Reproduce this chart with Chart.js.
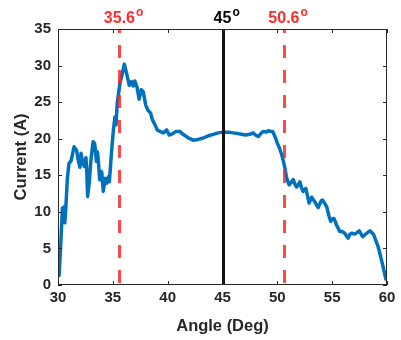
<!DOCTYPE html>
<html><head><meta charset="utf-8">
<script src="https://cdn.jsdelivr.net/npm/chart.js@4"></script>
<style>html,body{margin:0;padding:0;background:#fff}#wrap{width:401px;height:340px}</style>
</head><body><div id="wrap"><canvas id="c" width="401" height="340"></canvas></div>
<script>
const angles = [30.1,30.25,30.4,30.55,30.62,30.72,30.85,31.0,31.1,31.2,31.46,31.7,31.85,32.0,32.1,32.25,32.4,32.55,32.62,32.7,32.85,33.0,33.2,33.35,33.5,33.6,33.7,33.8,33.98,34.13,34.3,34.44,34.6,34.68,34.8,34.9,35.05,35.2,35.29,35.4,35.65,35.8,36.05,36.26,36.5,36.7,36.86,37.0,37.2,37.4,37.6,37.78,38.0,38.2,38.45,38.6,38.85,39.05,39.3,39.6,39.9,40.15,40.46,40.76,41.1,41.4,41.9,42.33,42.8,43.25,43.7,44.16,44.6,45.07,45.5,45.98,46.4,46.74,47.1,47.5,47.8,48.0,48.26,48.5,48.71,49.0,49.17,49.4,49.57,49.78,50.0,50.2,50.4,50.54,50.69,50.85,51.08,51.25,51.45,51.6,51.76,52.06,52.2,52.36,52.6,52.75,52.9,53.13,53.4,53.6,53.73,54.0,54.13,54.3,54.5,54.7,54.86,55.0,55.16,55.4,55.7,55.9,56.16,56.3,56.46,56.6,56.77,57.07,57.3,57.47,57.78,58.14,58.44,58.6,58.8,59.0,59.2,59.5,59.9];
const current = [1.3,5.5,10.5,10.7,8.5,10.8,14.5,16.6,16.8,17.0,18.9,18.4,17.0,16.1,18.0,16.8,16.2,17.4,15.7,12.1,14.0,17.0,19.6,19.3,16.9,18.2,16.6,14.4,15.5,12.8,14.6,13.9,14.8,14.1,16.5,18.5,21.2,23.0,21.9,24.8,27.6,28.5,30.2,28.9,27.3,27.8,27.2,27.9,27.1,25.4,26.7,26.4,24.6,23.9,23.5,22.6,21.9,21.2,21.0,20.8,21.2,20.5,20.7,21.0,21.0,20.6,20.1,19.8,19.9,20.1,20.4,20.6,20.8,20.9,20.9,20.8,20.7,20.6,20.5,20.6,20.8,20.5,20.3,20.7,21.0,20.9,21.1,21.0,21.0,20.3,19.4,18.7,17.8,17.0,16.0,14.6,13.7,14.0,14.4,13.8,13.4,14.1,13.3,12.8,13.2,12.2,11.2,12.0,11.4,10.9,10.6,11.5,11.6,11.2,10.7,9.5,8.7,9.0,9.1,8.2,7.3,7.3,7.07,6.7,6.4,6.9,7.07,6.97,7.2,7.4,6.6,7.07,7.4,7.2,6.84,6.0,5.2,3.4,0.8];
const xTicks = [30,35,40,45,50,55,60];
const yTicks = [0,5,10,15,20,25,30,35];
const markerAngles = [35.6, 45, 50.6];
const markerLabels = ['35.6', '45', '50.6'];
const markerColors = ['#ff2a2a', '#000000', '#ff2a2a'];

const FONT = '"Liberation Sans", Arial, sans-serif';
const TXT = '#262626';

const boxPlugin = {
  id: 'box',
  afterDatasetsDraw(chart) {
    const {ctx, chartArea: a, scales: {x, y}} = chart;
    ctx.save();
    markerAngles.forEach((v, i) => {
      const px = Math.round(x.getPixelForValue(v)) + 0.5;
      ctx.beginPath();
      if (i === 1) {
        ctx.strokeStyle = '#111';
        ctx.lineWidth = 3;
        ctx.setLineDash([]);
      } else {
        ctx.strokeStyle = 'rgba(255,40,40,0.85)';
        ctx.lineWidth = 3;
        ctx.setLineDash([13, 12]);
        ctx.lineDashOffset = 9;
      }
      ctx.moveTo(px, a.top);
      ctx.lineTo(px, a.bottom);
      ctx.stroke();
      ctx.setLineDash([]);
      ctx.fillStyle = markerColors[i];
      ctx.font = 'bold 16px ' + FONT;
      const t = markerLabels[i];
      const w = ctx.measureText(t).width;
      const left = x.getPixelForValue(v) - w / 2;
      ctx.textBaseline = 'alphabetic';
      ctx.textAlign = 'left';
      ctx.fillText(t, left, 23);
      ctx.font = 'bold 12px ' + FONT;
      ctx.fillText('o', left + w + 1, 16);
    });
    ctx.strokeStyle = TXT;
    ctx.lineWidth = 1;
    ctx.strokeRect(a.left + 0.5, a.top + 0.5, a.right - a.left - 1, a.bottom - a.top - 1);
    ctx.beginPath();
    xTicks.forEach(v => {
      const px = Math.round(x.getPixelForValue(v)) + 0.5;
      ctx.moveTo(px, a.bottom); ctx.lineTo(px, a.bottom - 4);
      ctx.moveTo(px, a.top); ctx.lineTo(px, a.top + 4);
    });
    yTicks.forEach(v => {
      const py = Math.round(y.getPixelForValue(v)) + 0.5;
      ctx.moveTo(a.left, py); ctx.lineTo(a.left + 4, py);
      ctx.moveTo(a.right, py); ctx.lineTo(a.right - 4, py);
    });
    ctx.stroke();
    ctx.restore();
  }
};

new Chart(document.getElementById('c'), {
  type: 'line',
  data: {
    datasets: [{
      data: angles.map((a, i) => ({x: a, y: current[i]})),
      borderColor: '#0072BD',
      borderWidth: 3.5,
      borderJoinStyle: 'round',
      borderCapStyle: 'round',
      pointRadius: 0,
      tension: 0,
      fill: false
    }]
  },
  options: {
    responsive: false,
    animation: false,
    events: [],
    layout: {padding: {top: 29, right: 14, left: 12, bottom: 0}},
    plugins: {legend: {display: false}, tooltip: {enabled: false}},
    scales: {
      x: {
        type: 'linear', min: 30, max: 60,
        afterBuildTicks: s => { s.ticks = xTicks.map(v => ({value: v})); },
        afterFit: s => { s.height = 55; },
        grid: {display: false, drawTicks: false},
        border: {display: false},
        ticks: {color: TXT, font: {family: FONT, size: 15, weight: 'bold'}, padding: 4, maxRotation: 0},
        title: {display: true, text: 'Angle (Deg)', color: TXT, font: {family: FONT, size: 16.5, weight: 'bold'}, padding: {top: 0, bottom: 4}}
      },
      y: {
        min: 0, max: 35,
        afterBuildTicks: s => { s.ticks = yTicks.map(v => ({value: v})); },
        afterFit: s => { s.width = 46; },
        grid: {display: false, drawTicks: false},
        border: {display: false},
        ticks: {color: TXT, font: {family: FONT, size: 15, weight: 'bold'}, padding: 7},
        title: {display: true, text: 'Current (A)', color: TXT, font: {family: FONT, size: 16.5, weight: 'bold'}, padding: {top: 0, bottom: 0}}
      }
    }
  },
  plugins: [boxPlugin]
});
</script>
</body></html>
